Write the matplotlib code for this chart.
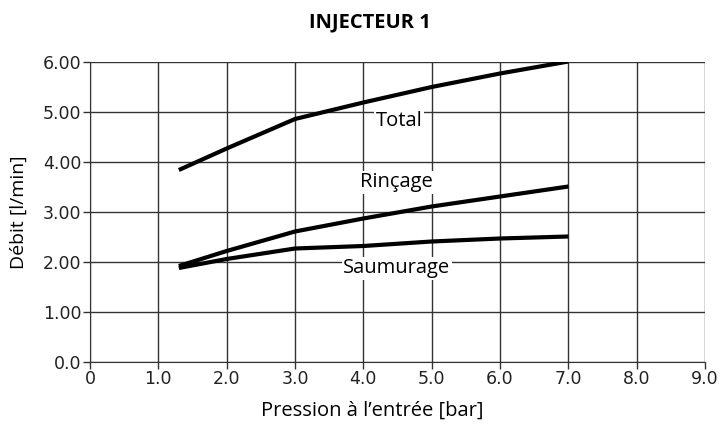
import matplotlib
matplotlib.use("Agg")
import matplotlib.pyplot as plt

pressure = [1.3, 2.0, 3.0, 4.0, 5.0, 6.0, 7.0]
total = [3.84, 4.27, 4.86, 5.19, 5.50, 5.77, 6.01]
rincage = [1.92, 2.22, 2.61, 2.87, 3.11, 3.31, 3.51]
saumurage = [1.88, 2.06, 2.27, 2.32, 2.41, 2.47, 2.51]

xticks = [0, 1, 2, 3, 4, 5, 6, 7, 8, 9]
xticklabels = ["0", "1.0", "2.0", "3.0", "4.0", "5.0", "6.0", "7.0", "8.0", "9.0"]
yticks = [0, 1, 2, 3, 4, 5, 6]
yticklabels = ["0.0", "1.00", "2.00", "3.00", "4.00", "5.00", "6.00"]

W, H = 721, 425
fig = plt.figure(figsize=(W / 100, H / 100), dpi=100)
ax = fig.add_axes([90 / W, 1 - 362 / H, 615 / W, 300 / H])

for series in (total, rincage, saumurage):
    ax.plot(pressure, series, color="black", lw=3, solid_capstyle="butt", zorder=3)

ax.set_xlim(0, 9)
ax.set_ylim(0, 6)
ax.set_xticks(xticks)
ax.set_xticklabels(xticklabels, family="DejaVu Sans", fontsize=12.5, color="#222222")
ax.set_yticks(yticks)
ax.set_yticklabels(yticklabels, family="DejaVu Sans", fontsize=12.5, color="#222222")
ax.grid(True, color="#333333", lw=1)
ax.set_axisbelow(True)
ax.tick_params(length=5, width=1, color="#333333", pad=1)
for s in ax.spines.values():
    s.set_visible(False)
for side in ("left", "bottom"):
    ax.spines[side].set_visible(True)
    ax.spines[side].set_color("#333333")

bbox = dict(facecolor="white", edgecolor="none", pad=1.0)
lab_kw = dict(fontsize=14.5, family="Open Sans", ha="center", va="baseline", bbox=bbox, zorder=2)
ax.text(4.52, 4.71, "Total", **lab_kw)
ax.text(4.49, 3.49, "Rinçage", **lab_kw)
ax.text(4.49, 1.77, "Saumurage", **lab_kw)

fig.text(372 / W, 1 - 411 / H, "Pression à l\u2019entrée [bar]", family="Open Sans",
         fontsize=14.5, ha="center", va="center")
fig.text(19 / W, 1 - 212 / H, "Débit [l/min]", family="Open Sans", fontsize=14,
         rotation=90, ha="center", va="center")
fig.text(370 / W, 1 - 22.5 / H, "INJECTEUR 1", family="Open Sans", fontweight="bold",
         fontsize=14.5, ha="center", va="center")

fig.savefig("out.png", dpi=100)
